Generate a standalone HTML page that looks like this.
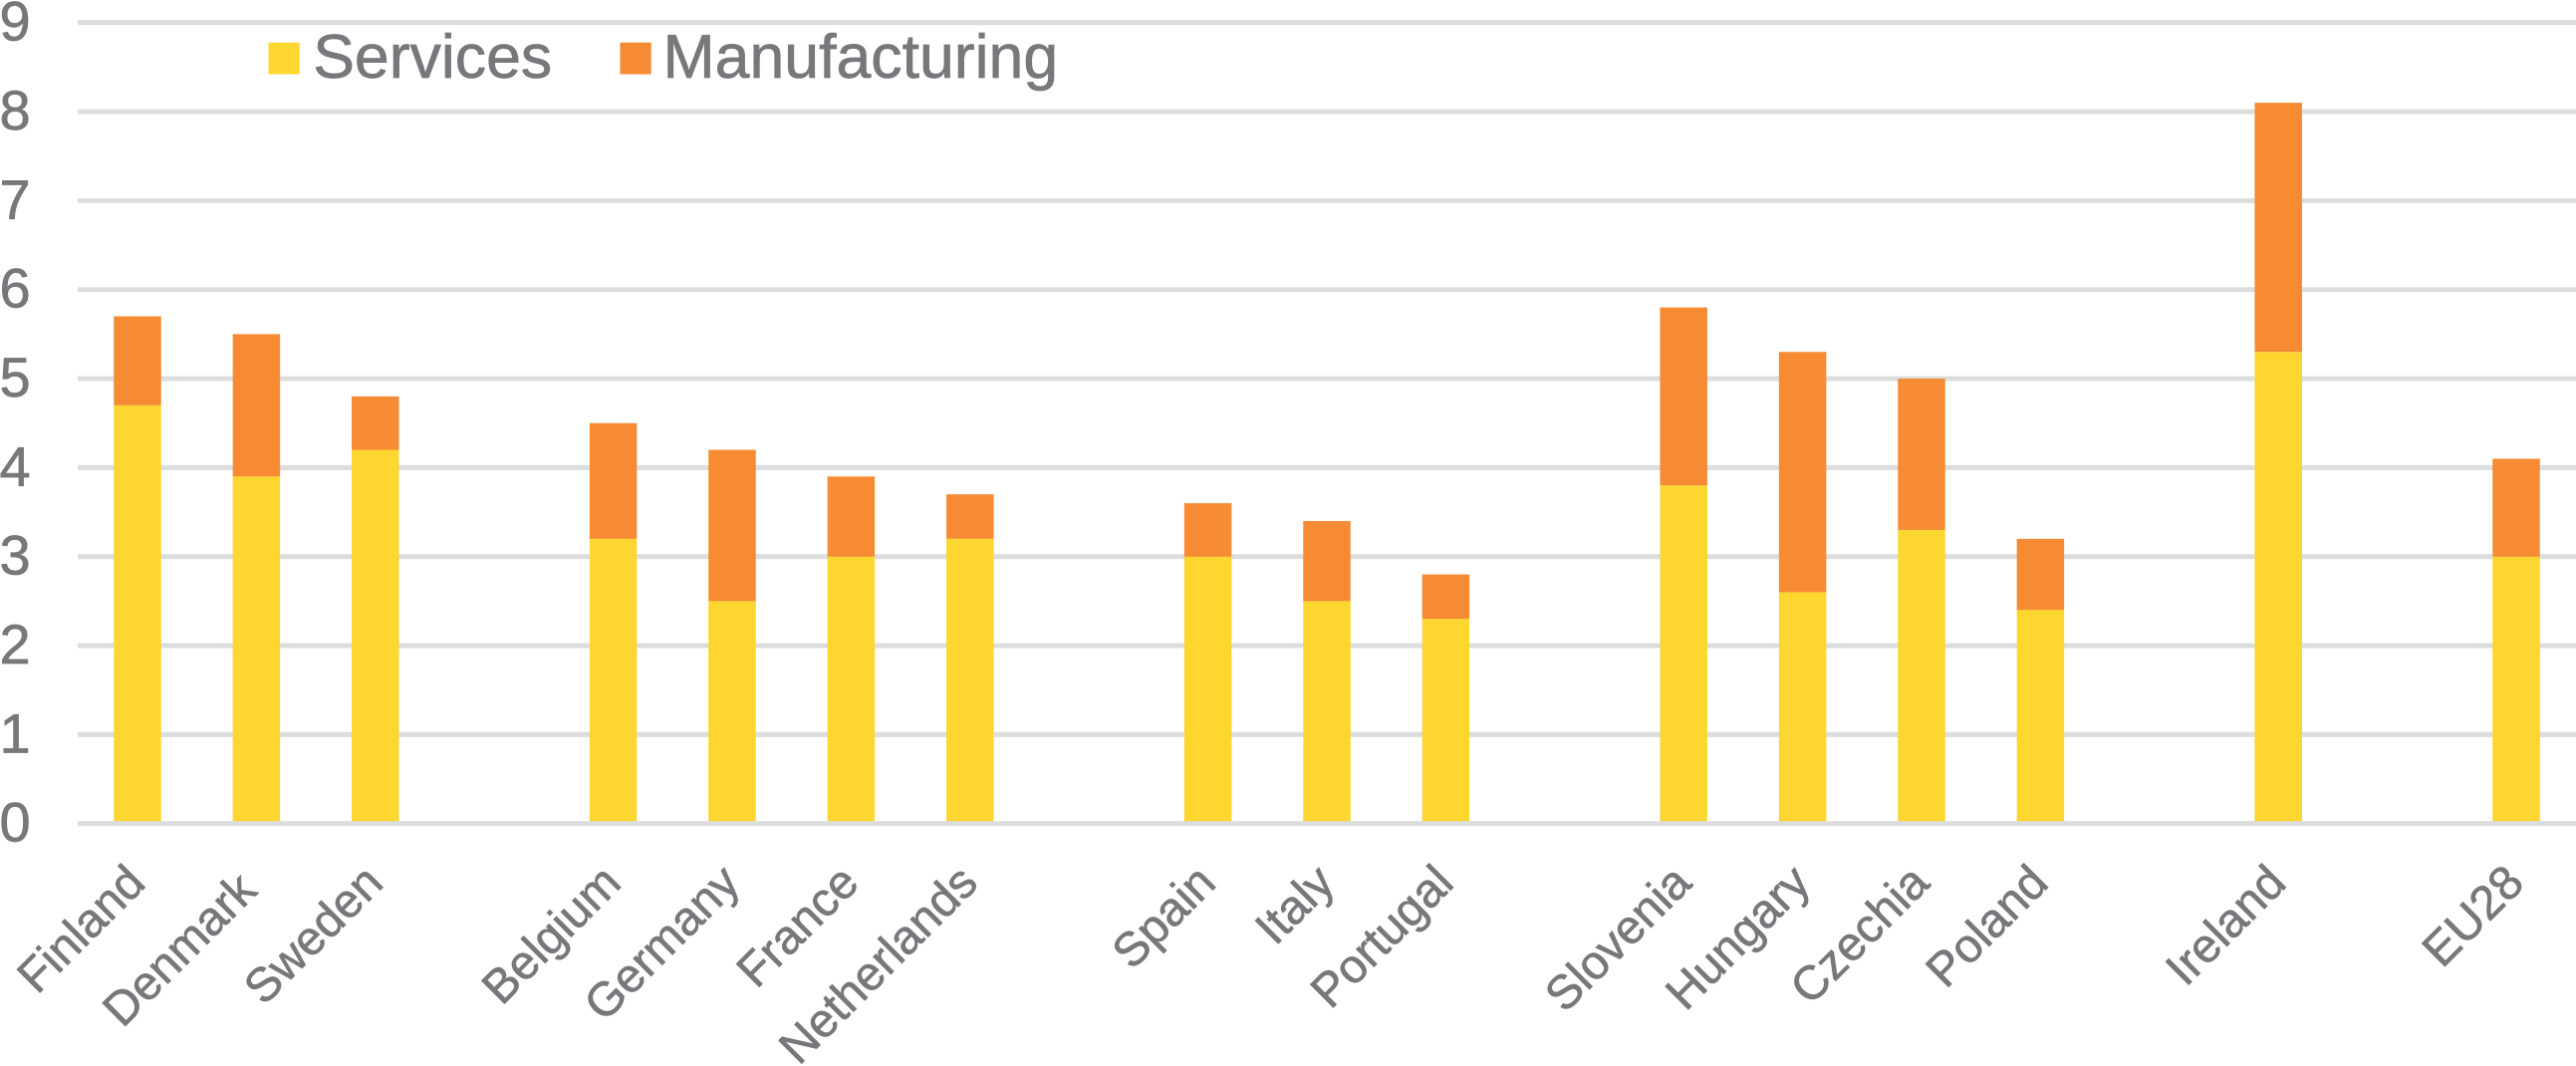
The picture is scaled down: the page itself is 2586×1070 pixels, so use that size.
<!DOCTYPE html>
<html lang="en">
<head>
<meta charset="utf-8">
<title>Services and Manufacturing by Country</title>
<style>
html,body{margin:0;padding:0;background:#fff;width:2586px;height:1070px;overflow:hidden}
svg{display:block}
text{font-family:"Liberation Sans",Arial,sans-serif;fill:#77787b;stroke:#77787b;stroke-width:0.7px}
</style>
</head>
<body>
<svg id="chart" xmlns="http://www.w3.org/2000/svg" width="2586" height="1070" viewBox="0 0 2586 1070">
  <g id="grid"></g>
  <g id="yticks"></g>
  <g id="bars"></g>
  <g id="baseline"></g>
  <g id="xlabels"></g>
  <g>
    <rect x="269.5" y="42.7" width="31.2" height="31.8" fill="#fdd62f"></rect>
    <text x="314.2" y="78.2" font-size="62.6">Services</text>
    <rect x="622.5" y="42.7" width="31.2" height="31.8" fill="#f68b33"></rect>
    <text x="665.5" y="78.2" font-size="62.6">Manufacturing</text>
  </g>
</svg>
<script>
var categories = ["Finland","Denmark","Sweden","","Belgium","Germany","France","Netherlands","","Spain","Italy","Portugal","","Slovenia","Hungary","Czechia","Poland","","Ireland","","EU28"];
var services = [4.7,3.9,4.2,null,3.2,2.5,3.0,3.2,null,3.0,2.5,2.3,null,3.8,2.6,3.3,2.4,null,5.3,null,3.0];
var manufacturing = [1.0,1.6,0.6,null,1.3,1.7,0.9,0.5,null,0.6,0.9,0.5,null,2.0,2.7,1.7,0.8,null,2.8,null,1.1];
var yTicks = [0,1,2,3,4,5,6,7,8,9];

var NS = "http://www.w3.org/2000/svg";
function xCenter(i){ return 138 + i * 119.4; }
function yPos(v){ return 826.7 - v * 89.33; }
var barWidth = 47.5;

function make(tag, parent){
  var el = document.createElementNS(NS, tag);
  parent.appendChild(el);
  return el;
}

var gridGroup = document.getElementById("grid");
var tickGroup = document.getElementById("yticks");
yTicks.forEach(function(t){
  if (t !== 0) {
    var line = make("rect", gridGroup);
    
    
    line.setAttribute("x", 78);
    line.setAttribute("y", yPos(t) - 2.5);
    line.setAttribute("width", 2508);
    line.setAttribute("height", 5);
    line.setAttribute("fill", "#dcdede");
  }
  var label = make("text", tickGroup);
  
  
  label.setAttribute("x", -0.5);
  label.setAttribute("y", yPos(t) + 18);
  label.setAttribute("font-size", 56);
  label.textContent = String(t);
});

var barGroup = document.getElementById("bars");
var labelGroup = document.getElementById("xlabels");
categories.forEach(function(name, i){
  if (!name) return;
  var cx = xCenter(i);
  var key = name.toLowerCase();
  var s = make("rect", barGroup);
  
  
  s.setAttribute("x", cx - barWidth / 2);
  s.setAttribute("y", yPos(services[i]));
  s.setAttribute("width", barWidth);
  s.setAttribute("height", yPos(0) - yPos(services[i]));
  s.setAttribute("fill", "#fdd62f");

  var total = services[i] + manufacturing[i];
  var m = make("rect", barGroup);
  
  
  m.setAttribute("x", cx - barWidth / 2);
  m.setAttribute("y", yPos(total));
  m.setAttribute("width", barWidth);
  m.setAttribute("height", yPos(services[i]) - yPos(total));
  m.setAttribute("fill", "#f68b33");

  var nudge = (name === "Denmark") ? 7.5 : 0;
  var lx = cx + 10 - nudge, ly = 888.5 + nudge;
  var t = make("text", labelGroup);
  
  
  t.setAttribute("x", lx);
  t.setAttribute("y", ly);
  t.setAttribute("font-size", 47.7);
  t.setAttribute("text-anchor", "end");
  t.setAttribute("transform", "rotate(-45 " + lx + " " + ly + ")");
  t.textContent = name;
});

var base = make("rect", document.getElementById("baseline"));


base.setAttribute("x", 78);
base.setAttribute("y", yPos(0) - 2.5);
base.setAttribute("width", 2508);
base.setAttribute("height", 5);
base.setAttribute("fill", "#dcdede");
</script>
</body>
</html>
